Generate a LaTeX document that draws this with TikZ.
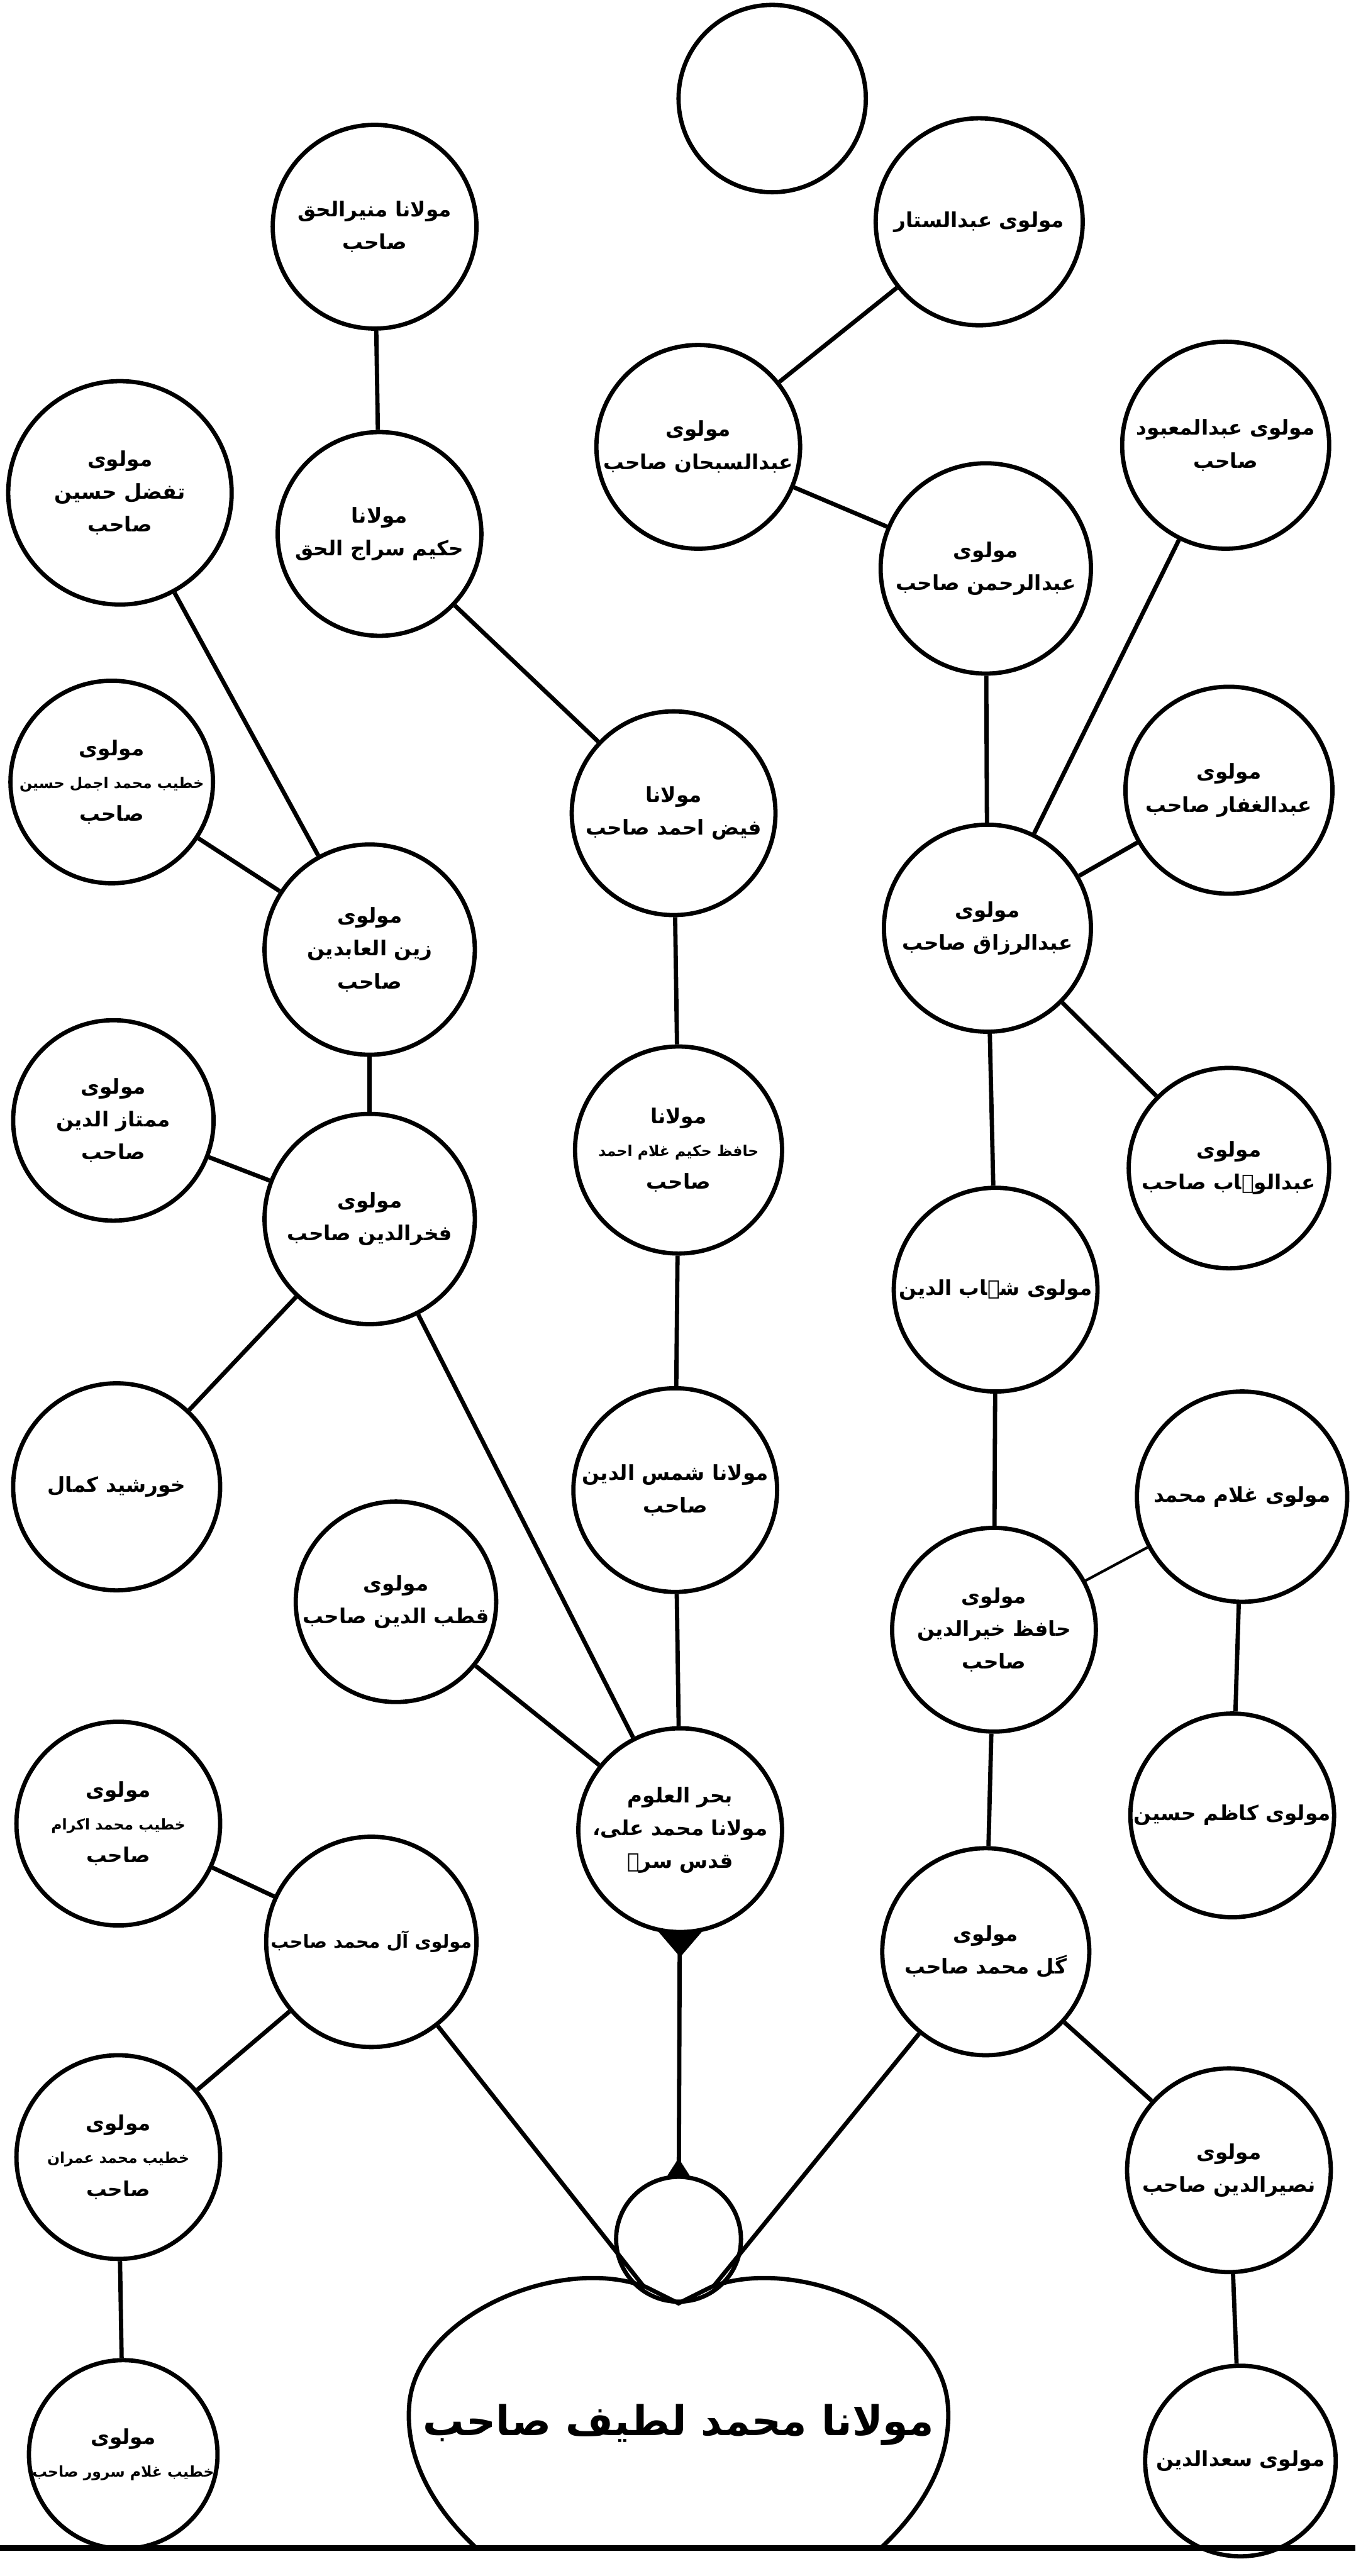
\documentclass[tikz,border=0pt]{standalone}
\usepackage{fontspec}
\newfontfamily\urdufont[Script=Arabic]{DejaVu Sans}
\TeXXeTstate=1
\newcommand{\ur}[1]{\beginR #1\endR}
\begin{document}
\begin{tikzpicture}[x=1pt,y=-1pt,
  person/.style={circle,draw,line width=2.6pt,minimum size=126pt,inner sep=0pt,align=center,
    font=\urdufont\bfseries\fontsize{12.5}{20}\selectfont},
  small/.style={font=\urdufont\bfseries\fontsize{10.5}{19}\selectfont},
  link/.style={line width=2.6pt}]
\path[use as bounding box,fill=white] (0,0) rectangle (825,1568);
\node[person,minimum size=114pt] (blank) at (470,60) {};
\node[person,minimum size=124pt] (munir) at (228,138) {\ur{مولانا منیرالحق}\\\ur{صاحب}};
\node[person] (sattar) at (596,135) {\ur{مولوی عبدالستار}};
\node[person,minimum size=136pt] (tafazzul) at (73,300) {\ur{مولوی}\\\ur{تفضل حسین}\\\ur{صاحب}};
\node[person,minimum size=124pt] (siraj) at (231,325) {\ur{مولانا}\\\ur{حکیم سراج الحق}};
\node[person,minimum size=124pt] (subhan) at (425,272) {\ur{مولوی}\\\ur{عبدالسبحان صاحب}};
\node[person,minimum size=128pt] (rahman) at (600,346) {\ur{مولوی}\\\ur{عبدالرحمن صاحب}};
\node[person] (mabud) at (746,271) {\ur{مولوی عبدالمعبود}\\\ur{صاحب}};
\node[person,minimum size=124pt] (faiz) at (410,495) {\ur{مولانا}\\\ur{فیض احمد صاحب}};
\node[person,minimum size=122pt] (ajmal) at (68,476) {\ur{مولوی}\\\small\ur{خطیب محمد اجمل حسین}\\\ur{صاحب}};
\node[person,minimum size=128pt] (zain) at (225,578) {\ur{مولوی}\\\ur{زین العابدین}\\\ur{صاحب}};
\node[person] (ghaffar) at (748,481) {\ur{مولوی}\\\ur{عبدالغفار صاحب}};
\node[person] (razzaq) at (601,565) {\ur{مولوی}\\\ur{عبدالرزاق صاحب}};
\node[person] (ghulamahmad) at (413,700) {\ur{مولانا}\\\small\ur{حافظ حکیم غلام احمد}\\\ur{صاحب}};
\node[person,minimum size=122pt] (mumtaz) at (69,682) {\ur{مولوی}\\\ur{ممتاز الدین}\\\ur{صاحب}};
\node[person,minimum size=128pt] (fakhr) at (225,742) {\ur{مولوی}\\\ur{فخرالدین صاحب}};
\node[person,minimum size=122pt] (wahhab) at (748,711) {\ur{مولوی}\\\ur{عبدالوہاب صاحب}};
\node[person,minimum size=124pt] (shihab) at (606,785) {\ur{مولوی شہاب الدین}};
\node[person] (khurshid) at (71,905) {\ur{خورشید کمال}};
\node[person,minimum size=124pt] (shams) at (411,907) {\ur{مولانا شمس الدین}\\\ur{صاحب}};
\node[person,minimum size=128pt] (ghulammuhammad) at (756,911) {\ur{مولوی غلام محمد}};
\node[person,minimum size=122pt] (qutb) at (241,975) {\ur{مولوی}\\\ur{قطب الدین صاحب}};
\node[person,minimum size=124pt] (khair) at (605,992) {\ur{مولوی}\\\ur{حافظ خیرالدین}\\\ur{صاحب}};
\node[person,minimum size=124pt] (bahr) at (414,1114) {\ur{بحر العلوم}\\\ur{مولانا محمد علی،}\\\ur{قدس سرہ}};
\node[person,minimum size=124pt] (kazim) at (750,1105) {\ur{مولوی کاظم حسین}};
\node[person,minimum size=124pt] (ikram) at (72,1110) {\ur{مولوی}\\\small\ur{خطیب محمد اکرام}\\\ur{صاحب}};
\node[person,minimum size=128pt] (aal) at (226,1182) {\fontsize{11}{19}\selectfont\ur{مولوی آل محمد صاحب}};
\node[person] (gul) at (600,1188) {\ur{مولوی}\\\ur{گل محمد صاحب}};
\node[person,minimum size=124pt] (imran) at (72,1313) {\ur{مولوی}\\\small\ur{خطیب محمد عمران}\\\ur{صاحب}};
\node[person,minimum size=124pt] (nasir) at (748,1321) {\ur{مولوی}\\\ur{نصیرالدین صاحب}};
\node[person,minimum size=76pt] (knot) at (413,1363) {};
\node[person,minimum size=114pt] (sarwar) at (75,1494) {\ur{مولوی}\\\small\ur{خطیب غلام سرور صاحب}};
\node[person,minimum size=116pt] (saad) at (755,1498) {\ur{مولوی سعدالدین}};
\draw[link] (290,1551) .. controls (262,1525) and (247,1495) .. (249,1465) .. controls (252,1410) and (340,1372) .. (393,1392) -- (413,1402) -- (433,1392) .. controls (486,1372) and (574,1410) .. (577,1465) .. controls (579,1495) and (564,1525) .. (536,1551);
\node[font=\urdufont\bfseries\fontsize{25}{30}\selectfont] (latif) at (413,1476) {\ur{مولانا محمد لطیف صاحب}};
\coordinate (hl) at (392,1392);
\coordinate (hr) at (434,1392);
\foreach \a/\b in {munir/siraj,sattar/subhan,subhan/rahman,mabud/razzaq,rahman/razzaq,tafazzul/zain,siraj/faiz,ajmal/zain,ghaffar/razzaq,faiz/ghulamahmad,zain/fakhr,mumtaz/fakhr,razzaq/wahhab,razzaq/shihab,fakhr/khurshid,ghulamahmad/shams,shihab/khair,ghulammuhammad/kazim,fakhr/bahr,qutb/bahr,shams/bahr,khair/gul,ikram/aal,aal/imran,gul/nasir,nasir/saad,imran/sarwar,bahr/knot,aal/hl,gul/hr}
  \draw[link] (\a) -- (\b);
\draw[line width=1.6pt] (khair) -- (ghulammuhammad);
\fill (bahr.-102) -- (bahr.-78) -- ([yshift=-14pt]bahr.south) -- cycle;
\fill (knot.100) -- (knot.80) -- ([yshift=10pt]knot.north) -- cycle;
\draw[line width=3.5pt] (0,1551) -- (825,1551);
\end{tikzpicture}
\end{document}
